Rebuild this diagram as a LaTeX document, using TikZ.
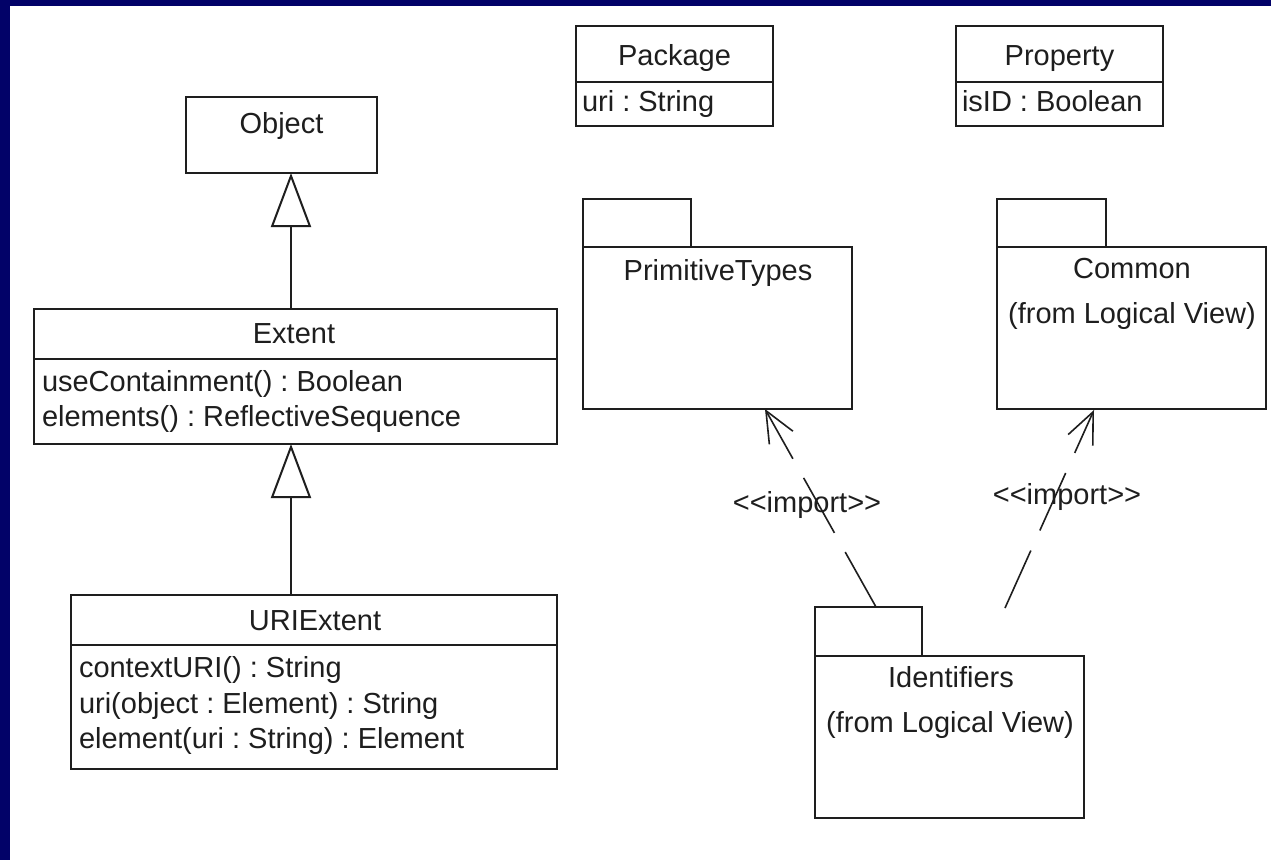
\documentclass[tikz,border=0pt]{standalone}
\usepackage{fontspec}
\setmainfont{Liberation Sans}
\usetikzlibrary{arrows.meta}
\definecolor{slideblue}{RGB}{2,2,104}
\definecolor{ink}{RGB}{30,30,30}
\frenchspacing
\begin{document}
\begin{tikzpicture}[x=1bp, y=-1bp,
  frame/.style={draw=ink, line width=2bp, inner sep=0pt, outer sep=0pt, fill=white},
  lbl/.style={inner sep=0pt, outer sep=0pt, text=ink, font=\fontsize{29bp}{36bp}\selectfont},
  rule/.style={draw=ink, line width=2bp},
  gen/.style={draw=ink, line width=2bp, -{Triangle[open, length=54bp, width=40bp, line width=2bp]}},
  imp/.style={draw=ink, line width=1.6bp, dash pattern=on 63bp off 22bp,
    -{Straight Barb[length=31bp, width=27bp, line width=1.6bp]}},
]
\useasboundingbox (0,0) rectangle (1271,860);
\fill[white] (0,0) rectangle (1271,860);
\fill[slideblue] (0,0) rectangle (1271,6);
\fill[slideblue] (0,0) rectangle (10,860);

% ---- class Object
\node[frame, minimum width=191bp, minimum height=76bp] (obj) at (281.5,135) {};
\node[lbl, anchor=base] (objName) at (281.5,133) {Object};

% ---- class Extent
\node[frame, minimum width=523bp, minimum height=135bp] (ext) at (295.5,376.5) {};
\draw[rule] (ext.west |- 0,359) -- (ext.east |- 0,359);
\node[lbl, anchor=base] (extName) at (294,343) {Extent};
\node[lbl, anchor=base west] (extOp1) at (42,391) {useContainment() : Boolean};
\node[lbl, anchor=base west] (extOp2) at (42,426) {elements() : ReflectiveSequence};

% ---- class URIExtent
\node[frame, minimum width=486bp, minimum height=174bp] (uri) at (314,682) {};
\draw[rule] (uri.west |- 0,645) -- (uri.east |- 0,645);
\node[lbl, anchor=base] (uriName) at (315,630) {URIExtent};
\node[lbl, anchor=base west] (uriOp1) at (79,677) {contextURI() : String};
\node[lbl, anchor=base west] (uriOp2) at (79,713) {uri(object : Element) : String};
\node[lbl, anchor=base west] (uriOp3) at (79,748) {element(uri : String) : Element};

% ---- generalizations
\coordinate (gx) at (291,0);
\draw[gen] (ext.north -| gx) -- (obj.south -| gx);
\draw[gen] (uri.north -| gx) -- (ext.south -| gx);

% ---- class Package
\node[frame, minimum width=197bp, minimum height=100bp] (pkg) at (674.5,76) {};
\draw[rule] (pkg.west |- 0,82) -- (pkg.east |- 0,82);
\node[lbl, anchor=base] (pkgName) at (674.5,65) {Package};
\node[lbl, anchor=base west] (pkgAttr) at (582,111) {uri : String};

% ---- class Property
\node[frame, minimum width=207bp, minimum height=100bp] (prop) at (1059.5,76) {};
\draw[rule] (prop.west |- 0,82) -- (prop.east |- 0,82);
\node[lbl, anchor=base] (propName) at (1059.5,65) {Property};
\node[lbl, anchor=base west] (propAttr) at (962,111) {isID : Boolean};

% ---- package PrimitiveTypes
\node[frame, minimum width=269bp, minimum height=162bp] (ptBody) at (717.5,328) {};
\node[frame, minimum width=108bp, minimum height=48bp] (ptTab) at (637,223) {};
\node[lbl, anchor=base] (ptName) at (718,280) {PrimitiveTypes};

% ---- package Common
\node[frame, minimum width=269bp, minimum height=162bp] (cmBody) at (1131.5,328) {};
\node[frame, minimum width=109bp, minimum height=48bp] (cmTab) at (1051.5,223) {};
\node[lbl, anchor=base] (cmName) at (1132,278) {Common};
\node[lbl, anchor=base] (cmFrom) at (1132,323) {(from Logical View)};

% ---- package Identifiers
\node[frame, minimum width=269bp, minimum height=162bp] (idBody) at (949.5,737) {};
\node[frame, minimum width=107bp, minimum height=49bp] (idTab) at (868.5,631.5) {};
\node[lbl, anchor=base] (idName) at (951,687) {Identifiers};
\node[lbl, anchor=base] (idFrom) at (950,732) {(from Logical View)};

% ---- import dependencies
\coordinate (imp1from) at (876,607);
\coordinate (imp1to) at (765,409);
\coordinate (imp2from) at (1005,608);
\coordinate (imp2to) at (1094,410);
\draw[imp] (imp1from) -- (imp1to);
\draw[imp] (imp2from) -- (imp2to);
\node[lbl, anchor=base] (imp1lbl) at (807,512) {<\kern0pt<import>\kern0pt>};
\node[lbl, anchor=base] (imp2lbl) at (1067,504) {<\kern0pt<import>\kern0pt>};
\end{tikzpicture}
\end{document}
